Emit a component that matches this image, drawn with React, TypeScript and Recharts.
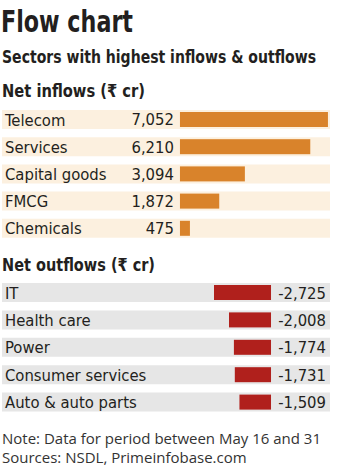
import React from 'react';
import { BarChart, Bar, XAxis, YAxis, LabelList } from 'recharts';

const inflowSectors = ['Telecom', 'Services', 'Capital goods', 'FMCG', 'Chemicals'];
const inflowValues = [7052, 6210, 3094, 1872, 475];

const outflowSectors = ['IT', 'Health care', 'Power', 'Consumer services', 'Auto & auto parts'];
const outflowValues = [-2725, -2008, -1774, -1731, -1509];

const inflowData = inflowSectors.map((name, i) => ({ name, value: inflowValues[i] }));
const outflowData = outflowSectors.map((name, i) => ({ name, value: outflowValues[i] }));

const FONT = '"DejaVu Sans Condensed", "Liberation Sans Narrow", Roboto, sans-serif';
const NOTE_FONT = '"Open Sans", sans-serif';
const TEXT = '#231f20';

const fmt = (v: number) => (v < 0 ? '-' : '') + Math.abs(v).toLocaleString('en-US');

// thinner bar drawn inside the full-height band slot
const InsetBar = (props: any) => {
    const { x, y, width, height, fill } = props;
    const w = Math.abs(width);
    const left = width < 0 ? x + width : x;
    return <rect x={left} y={y + 2} width={w} height={height - 4} fill={fill} />;
};

const nameLabel = (p: any) => (
    <text x={5} y={p.y + p.height / 2} dy={6} fontFamily={FONT} fontSize={16.5} fill={TEXT}>
        {p.value}
    </text>
);

const App = () => {
    return (
        <div style={{ position: 'absolute', left: 0, top: 0, width: 345, height: 475, background: '#fff' }}>
            <svg width={345} height={475} style={{ position: 'absolute', left: 0, top: 0 }}>
                <text x={1} y={32} fontFamily={FONT} fontWeight="bold" fontSize={30} fill={TEXT}
                    textLength={132} lengthAdjust="spacingAndGlyphs">Flow chart</text>
                <text x={2} y={63} fontFamily={FONT} fontWeight="bold" fontSize={17} fill={TEXT}
                    textLength={314} lengthAdjust="spacingAndGlyphs">Sectors with highest inflows &amp; outflows</text>
                <text x={2} y={97} fontFamily={FONT} fontWeight="bold" fontSize={18} fill={TEXT}
                    textLength={143} lengthAdjust="spacingAndGlyphs">Net inflows (₹ cr)</text>
                <text x={2} y={271} fontFamily={FONT} fontWeight="bold" fontSize={18} fill={TEXT}
                    textLength={153} lengthAdjust="spacingAndGlyphs">Net outflows (₹ cr)</text>
                <text x={2} y={444} fontFamily={NOTE_FONT} fontSize={15} fill="#333">Note: Data for period between May 16 and 31</text>
                <text x={2} y={463} fontFamily={NOTE_FONT} fontSize={15} fill="#333">Sources: NSDL, Primeinfobase.com</text>
            </svg>

            <div style={{ position: 'absolute', left: 0, top: 106 }}>
                <BarChart width={332} height={136} data={inflowData} layout="vertical"
                    margin={{ top: 0, right: 2, bottom: 0, left: 2 }} barCategoryGap={0}>
                    <XAxis type="number" hide domain={[-8480, 7150]} />
                    <YAxis type="category" dataKey="name" hide />
                    <Bar dataKey="value" fill="#d9832b" barSize={19} background={{ fill: '#fcf0df' }}
                        shape={InsetBar} isAnimationActive={false}>
                        <LabelList dataKey="name" content={nameLabel} />
                        <LabelList dataKey="value" position="left" offset={6} formatter={(v: any) => fmt(v)}
                            style={{ fontFamily: FONT, fontSize: 16.5, fill: TEXT }} />
                    </Bar>
                </BarChart>
            </div>

            <div style={{ position: 'absolute', left: 0, top: 279 }}>
                <BarChart width={332} height={137} data={outflowData} layout="vertical"
                    margin={{ top: 0, right: 2, bottom: 0, left: 2 }} barCategoryGap={0}>
                    <XAxis type="number" hide domain={[-12860, 2820]} />
                    <YAxis type="category" dataKey="name" hide />
                    <Bar dataKey="value" fill="#b0201c" barSize={19} background={{ fill: '#e6e6e6' }}
                        shape={InsetBar} isAnimationActive={false}>
                        <LabelList dataKey="name" content={nameLabel} />
                        <LabelList dataKey="value"
                            content={(p: any) => (
                                <text x={326} y={p.y + p.height / 2} dy={6} textAnchor="end"
                                    fontFamily={FONT} fontSize={16.5} fill={TEXT}>{fmt(p.value)}</text>
                            )} />
                    </Bar>
                </BarChart>
            </div>
        </div>
    );
};

export default App;
